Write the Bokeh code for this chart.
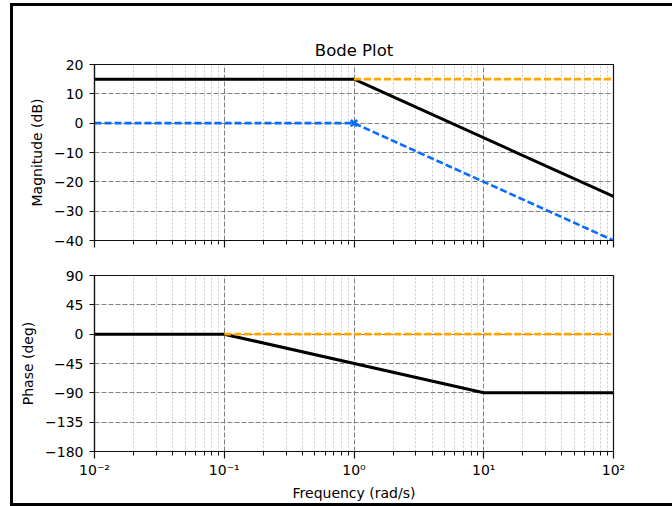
from bokeh.plotting import figure
from bokeh.layouts import column
from bokeh.models import Range1d, FixedTicker, CustomJSTickFormatter
from bokeh.embed import file_html
from bokeh.resources import INLINE

# ---- data ----
mag_freq = [0.01, 1, 100]
mag_total = [15, 15, -25]
mag_gain_freq = [1, 100]
mag_gain = [15, 15]
mag_pole_freq = [0.01, 1, 100]
mag_pole = [0, 0, -40]
corner_freq = [1]
corner_mag = [0]

phase_freq = [0.01, 0.1, 10, 100]
phase_total = [0, 0, -90, -90]
phase_gain_freq = [0.1, 100]
phase_gain = [0, 0]

x_major = [0.01, 0.1, 1, 10, 100]
x_minor = [m * d for d in [0.01, 0.1, 1, 10] for m in range(2, 10)]
mag_ticks = [-40, -30, -20, -10, 0, 10, 20]
phase_ticks = [-180, -135, -90, -45, 0, 45, 90]

FONT = "DejaVu Sans"
BLACK = "#000000"
ORANGE = "#ffa500"
BLUE = "#0a6cff"

sup_fmt = CustomJSTickFormatter(code="""
const e = Math.round(Math.log10(tick));
const map = {'-':'\\u207b','0':'\\u2070','1':'\\u00b9','2':'\\u00b2','3':'\\u00b3'};
let s = '';
for (const c of String(e)) s += map[c];
return '10' + s;
""")
blank_fmt = CustomJSTickFormatter(code="return '';")
minus_fmt = CustomJSTickFormatter(code="return tick < 0 ? '\\u2212' + Math.abs(tick) : String(tick);")


def style(p, yticks, show_x_labels):
    p.outline_line_color = "#111111"
    p.outline_line_width = 1.2
    p.background_fill_color = "white"
    p.border_fill_color = "white"
    xa = p.xaxis[0]
    ya = p.yaxis[0]
    xa.ticker = FixedTicker(ticks=x_major, minor_ticks=x_minor)
    ya.ticker = FixedTicker(ticks=yticks)
    for ax in (xa, ya):
        ax.axis_line_color = "#111111"
        ax.axis_line_width = 1.2
        ax.major_tick_line_color = "#111111"
        ax.major_tick_line_width = 1.2
        ax.minor_tick_line_color = "#111111"
        ax.minor_tick_line_width = 1
        ax.major_tick_in = 0
        ax.minor_tick_in = 0
        ax.major_label_text_font = FONT
        ax.major_label_text_font_size = "14px"
        ax.major_label_text_color = "#000000"
        ax.axis_label_text_font = FONT
        ax.axis_label_text_font_size = "14px"
        ax.axis_label_text_font_style = "normal"
        ax.axis_label_text_color = "#000000"
    xa.major_tick_out = 7
    xa.minor_tick_out = 4
    ya.major_tick_out = 5
    ya.minor_tick_out = 0
    ya.formatter = minus_fmt
    ya.major_label_standoff = 6
    ya.axis_label_standoff = 6
    xa.formatter = sup_fmt if show_x_labels else blank_fmt
    xa.major_label_standoff = 3
    xa.axis_label_standoff = 4
    p.xgrid.grid_line_color = "#808080"
    p.xgrid.grid_line_dash = "5 2"
    p.xgrid.grid_line_width = 1
    p.xgrid.minor_grid_line_color = "#c8c8c8"
    p.xgrid.minor_grid_line_dash = "2 2"
    p.xgrid.minor_grid_line_width = 1
    p.ygrid.grid_line_color = "#808080"
    p.ygrid.grid_line_dash = "5 2"
    p.ygrid.grid_line_width = 1


p1 = figure(width=659, height=251, x_axis_type="log",
            x_range=Range1d(0.01, 100), y_range=Range1d(-40, 20),
            min_border_left=81, min_border_right=59, min_border_top=58, min_border_bottom=17,
            title="Bode Plot", output_backend="svg", toolbar_location=None)
p1.title.align = "center"
p1.title.text_font = FONT
p1.title.text_font_size = "16.5px"
p1.title.text_font_style = "normal"
p1.title.text_color = "#000000"
style(p1, mag_ticks, False)
p1.yaxis.axis_label = "Magnitude (dB)"

p1.line(mag_freq, mag_total, line_color=BLACK, line_width=3)
p1.line(mag_gain_freq, mag_gain, line_color=ORANGE, line_width=2.6, line_dash="7 3")
p1.line(mag_pole_freq, mag_pole, line_color=BLUE, line_width=2.6, line_dash="7 3")
p1.scatter(corner_freq, corner_mag, marker="x", size=9, line_color=BLUE, line_width=2.6)

p2 = figure(width=659, height=246, x_axis_type="log",
            x_range=Range1d(0.01, 100), y_range=Range1d(-180, 90),
            min_border_left=81, min_border_right=59, min_border_top=18, min_border_bottom=52,
            output_backend="svg", toolbar_location=None)
style(p2, phase_ticks, True)
p2.yaxis.axis_label = "Phase (deg)"
p2.xaxis.axis_label = "Frequency (rad/s)"

p2.line(phase_freq, phase_total, line_color=BLACK, line_width=3)
p2.line(phase_gain_freq, phase_gain, line_color=ORANGE, line_width=2.6, line_dash="7 3")

layout = column(p1, p2, styles={
    "margin-left": "10px", "margin-top": "3px",
    "border-left": "3px solid black", "border-top": "3px solid black",
    "border-bottom": "3px solid black", "background-color": "white",
})

open("out.html", "w").write(file_html(layout, INLINE))
